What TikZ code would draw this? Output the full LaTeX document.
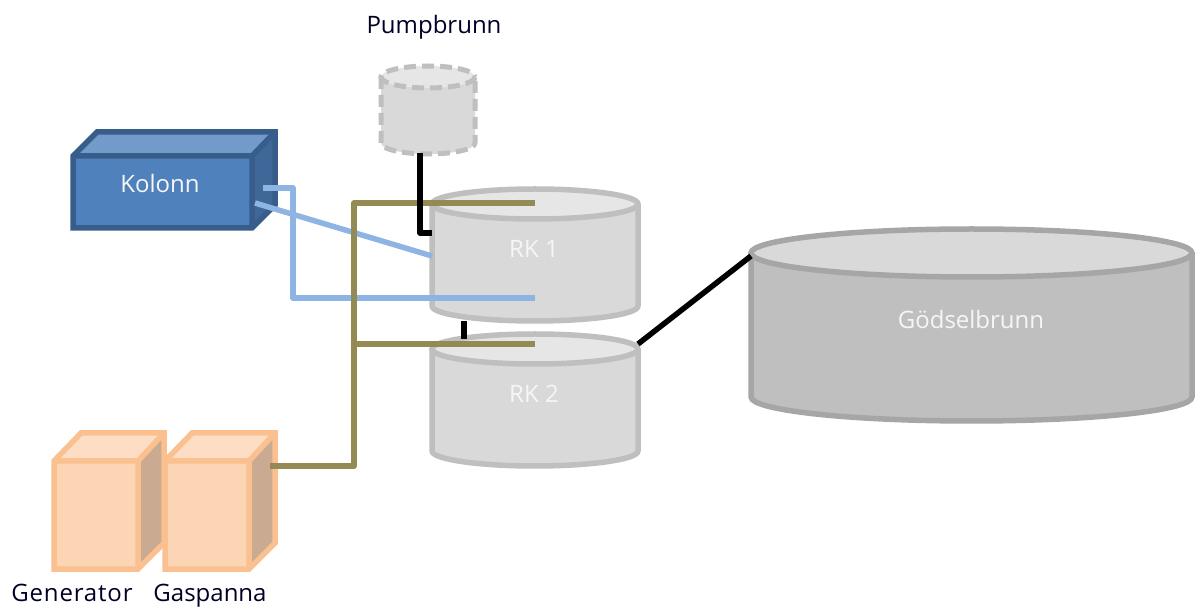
\documentclass[tikz,border=0pt]{standalone}
\usepackage{fontspec}
\setmainfont{Open Sans}
\newfontfamily\widefont[LetterSpace=3.5]{Open Sans}
\definecolor{kolS}{HTML}{385D8A}
\definecolor{kolF}{HTML}{4F81BD}
\definecolor{kolT}{HTML}{729ACA}
\definecolor{kolD}{HTML}{3F6797}
\definecolor{orS}{HTML}{FAC090}
\definecolor{orF}{HTML}{FCD5B5}
\definecolor{orT}{HTML}{FDDDC4}
\definecolor{orD}{HTML}{CAAA91}
\definecolor{blueL}{HTML}{8DB4E2}
\definecolor{oliveL}{HTML}{948A54}
\definecolor{cylS}{HTML}{BFBFBF}
\definecolor{cylF}{HTML}{D9D9D9}
\definecolor{cylT}{HTML}{E6E6E6}
\definecolor{gS}{HTML}{A6A6A6}
\definecolor{gF}{HTML}{BFBFBF}
\definecolor{gT}{HTML}{D9D9D9}
\newcommand{\mycyl}[8]{% x1,x2,ytop,ybot,ry,stroke,fill,topfill
  \pgfmathsetmacro{\myrx}{(#2-#1)/2}
  \pgfmathsetmacro{\mycx}{(#1+#2)/2}
  \path[fill=#7] (#1,#3) -- (#1,#4) arc[start angle=180,end angle=360,x radius=\myrx,y radius=-#5] -- (#2,#3) -- cycle;
  \fill[#8] (\mycx,#3) ellipse[x radius=\myrx,y radius=#5];
}
\tikzset{
  x=1pt,y=-1pt,
  pipe/.style={line width=5.5pt,line join=round},
  bluepipe/.style={pipe,draw=blueL},
  olivepipe/.style={pipe,draw=oliveL},
  blackpipe/.style={pipe,draw=black},
  edge3d/.style={line width=5.5pt,line join=miter},
  lightlabel/.style={text=white!93!gray,font=\fontsize{24}{28}\selectfont,inner sep=0pt,anchor=base},
  darklabel/.style={text=black!85!blue,font=\fontsize{24}{28}\selectfont,inner sep=0pt,anchor=base},
}
\begin{document}
\begin{tikzpicture}
\useasboundingbox (0,0) rectangle (1195,609);
% anchor coordinates
\coordinate (kolOut) at (263,188);
\coordinate (kolOutB) at (255,203);
\coordinate (kolBend) at (293,188);
\coordinate (kolBendB) at (293,298);
\coordinate (rkOneIn) at (535,298);
\coordinate (rkOneSide) at (432,256);
\coordinate (gasOut) at (270,466);
\coordinate (gasBend) at (354,466);
\coordinate (gasMid) at (354,344);
\coordinate (gasTop) at (354,203);
\coordinate (rkOneGas) at (535,203);
\coordinate (rkTwoGas) at (535,344);
\coordinate (pumpOut) at (420,153);
\coordinate (pumpBend) at (420,233);
\coordinate (rkOnePump) at (432,233);
\coordinate (rkOneBot) at (464,321);
\coordinate (rkTwoTop) at (464,339);
\coordinate (rkTwoOut) at (638,344);
\coordinate (godIn) at (751,256);
% Pumpbrunn
\mycyl{381}{475}{77}{143}{11}{cylS}{cylF}{cylT}
\draw[cylS,line width=5pt,dash pattern=on 12pt off 6pt]
  (381,77) -- (381,143) arc[start angle=180,end angle=360,x radius=47,y radius=-11] -- (475,77);
\draw[cylS,line width=5pt,dash pattern=on 12pt off 6pt] (428,77) ellipse[x radius=47,y radius=11];
% RK 1
\mycyl{432}{638}{204}{306}{15}{cylS}{cylF}{cylT}
\draw[cylS,line width=5.5pt,line join=round] (432,204) -- (432,306) arc[start angle=180,end angle=360,x radius=103,y radius=-15] -- (638,204);
\draw[cylS,line width=5.5pt] (535,204) ellipse[x radius=103,y radius=15];
% RK 2
\mycyl{432}{638}{349}{451}{15}{cylS}{cylF}{cylT}
\draw[cylS,line width=5.5pt,line join=round] (432,349) -- (432,451) arc[start angle=180,end angle=360,x radius=103,y radius=-15] -- (638,349);
\draw[cylS,line width=5.5pt] (535,349) ellipse[x radius=103,y radius=15];
% Godselbrunn
\mycyl{751}{1192}{253}{397}{24}{gS}{gF}{gT}
\draw[gS,line width=5.5pt,line join=round] (751,253) -- (751,397) arc[start angle=180,end angle=360,x radius=220.5,y radius=-24] -- (1192,253);
\draw[gS,line width=5.5pt] (971.5,253) ellipse[x radius=220.5,y radius=24];
% Kolonn
\fill[kolF] (73,156) rectangle (252,228);
\fill[kolT] (73,156) -- (97,132) -- (275,132) -- (252,156) -- cycle;
\fill[kolD] (252,156) -- (275,132) -- (275,205) -- (252,228) -- cycle;
\draw[kolS,edge3d] (73,156) -- (97,132) -- (275,132) -- (275,205) -- (252,228) -- (73,228) -- cycle;
\draw[kolS,edge3d] (73,156) -- (252,156) -- (275,132) (252,156) -- (252,228);
% Generator
\fill[orF] (54,461) rectangle (138,569);
\fill[orT] (54,461) -- (81,433) -- (164,433) -- (138,461) -- cycle;
\fill[orD] (138,461) -- (164,433) -- (164,543) -- (138,569) -- cycle;
\draw[orS,edge3d] (54,461) -- (81,433) -- (164,433) -- (164,543) -- (138,569) -- (54,569) -- cycle;
\draw[orS,edge3d] (54,461) -- (138,461) -- (164,433) (138,461) -- (138,569);
% Gaspanna
\fill[orF] (165,461) rectangle (249,569);
\fill[orT] (165,461) -- (192,433) -- (275,433) -- (249,461) -- cycle;
\fill[orD] (249,461) -- (275,433) -- (275,543) -- (249,569) -- cycle;
\draw[orS,edge3d] (165,461) -- (192,433) -- (275,433) -- (275,543) -- (249,569) -- (165,569) -- cycle;
\draw[orS,edge3d] (165,461) -- (249,461) -- (275,433) (249,461) -- (249,569);
% labels
\node[darklabel] (pumpLabel) at (434,34) {Pumpbrunn};
\node[lightlabel] (kolLabel) at (160,193) {Kolonn};
\node[lightlabel] (rkOneLabel) at (534,258) {RK 1};
\node[lightlabel] (rkTwoLabel) at (534,403) {RK 2};
\node[lightlabel] (godLabel) at (971,329) {Gödselbrunn};
\node[darklabel] (genLabel) at (72,601.5) {\widefont Generator};
\node[darklabel] (gasLabel) at (210,601.5) {Gaspanna};
% connectors
\draw[bluepipe] (kolOut) -- (kolBend) -- (kolBendB) -- (rkOneIn);
\draw[bluepipe] (kolOutB) -- (rkOneSide);
\draw[olivepipe] (gasOut) -- (gasBend) -- (gasTop) -- (rkOneGas);
\draw[olivepipe] (gasMid) -- (rkTwoGas);
\draw[blackpipe] (pumpOut) -- (pumpBend) -- (rkOnePump);
\draw[blackpipe] (rkOneBot) -- (rkTwoTop);
\draw[blackpipe] (rkTwoOut) -- (godIn);
\end{tikzpicture}
\end{document}
